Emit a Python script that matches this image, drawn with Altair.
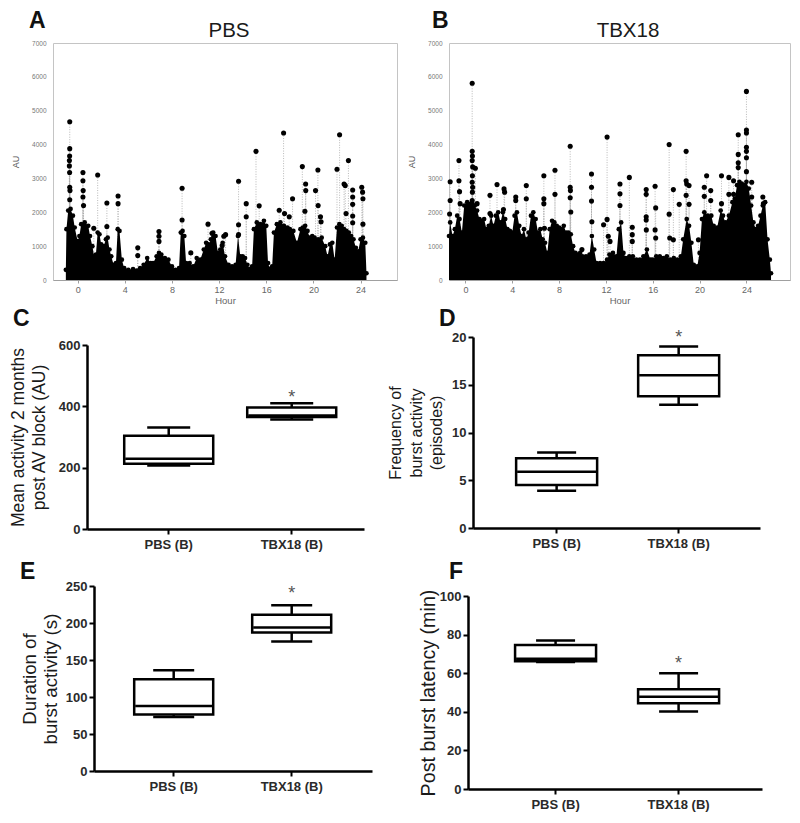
import altair as alt
import pandas as pd

FONT = "Liberation Sans"
GROUPS = ["PBS (B)", "TBX18 (B)"]
HOUR_TICKS = [0, 4, 8, 12, 16, 20, 24]
AU_TICKS = [0, 1000, 2000, 3000, 4000, 5000, 6000, 7000]

# ---------------- Panel A (PBS): upper edge of the dense activity band ----------------
A_ENV_HOUR = [-1.0, -0.95, -0.8, -0.6, -0.4, -0.25, 0.0, 0.15, 0.3, 0.6, 0.9,
              1.05, 1.25, 1.4, 1.55, 1.7, 1.85, 2.0, 2.2, 2.4, 2.55, 2.7, 2.85,
              3.05, 3.25, 3.4, 3.55, 3.75, 3.95, 4.3, 4.7, 5.0, 5.3, 5.6, 5.9,
              6.2, 6.4, 6.7, 6.9, 7.1, 7.4, 7.7, 8.0, 8.3, 8.6, 8.75, 8.9,
              9.05, 9.2, 9.5, 9.8, 10.1, 10.4, 10.7, 10.9, 11.1, 11.3, 11.5, 11.7, 11.9,
              12.1, 12.3, 12.5, 12.8, 13.1, 13.4, 13.6, 13.8, 14.0, 14.2, 14.4, 14.6, 14.8, 14.95,
              15.2, 15.5, 15.8, 16.0, 16.15, 16.3, 16.5, 16.65, 16.9, 17.2, 17.5, 17.8,
              18.0, 18.3, 18.6, 18.9, 19.1, 19.3, 19.5, 19.7, 19.9, 20.1, 20.4, 20.7,
              21.0, 21.2, 21.4, 21.6, 21.8, 22.0, 22.2, 22.4, 22.6, 22.8,
              23.0, 23.2, 23.4, 23.6, 23.8, 24.0, 24.2, 24.4, 24.5]
A_ENV_AU = [300, 1500, 2050, 2100, 1900, 1550, 1150, 1300, 1650, 1700, 1600,
            1300, 1000, 700, 750, 1400, 1350, 1050, 1000, 1200, 1250, 900, 700,
            450, 500, 1500, 1450, 600, 350, 300, 320, 280, 350, 450, 650,
            500, 500, 700, 800, 750, 650, 600, 400, 300, 350, 1400, 1450,
            1300, 500, 500, 400, 650, 600, 900, 1100, 1000, 1200, 1400, 1300, 800,
            900, 1100, 700, 450, 400, 450, 1300, 700, 700, 650, 450, 320, 400, 1500,
            1700, 1650, 1750, 1600, 500, 330, 400, 1400, 1650, 1700, 1600, 1550,
            1500, 1450, 1100, 1500, 1550, 1600, 1450, 1250, 1300, 1250, 1200, 1250,
            1000, 700, 1050, 1100, 600, 1550, 1650, 1600, 1500, 1450,
            1400, 1300, 1200, 950, 850, 1200, 1250, 1100, 200]

# Panel A: isolated burst points standing above the band
A_PEAK_HOUR = [-0.67, -0.67, -0.68, -0.70, -0.70, -0.68, -0.67, -0.65, -0.67,
               0.45, 0.45, 0.47, 0.45, 0.50, 1.37, 1.70, 2.48, 2.48, 3.43, 3.43,
               5.10, 5.10, 6.90, 6.90, 6.90, 8.86, 8.86, 9.60,
               11.06, 11.10, 11.40, 11.55, 12.26, 12.40, 12.55,
               13.65, 13.65, 13.65, 14.30, 14.30, 15.13, 15.40,
               17.10, 17.47, 17.55, 18.23, 17.95,
               19.06, 19.34, 19.35, 19.28, 20.18, 20.38, 20.40, 20.60, 20.65,
               22.00, 22.22, 22.60, 22.70, 22.97, 22.77,
               23.33, 23.33, 23.33, 23.33, 23.33, 24.10, 24.17, 24.20, 24.20]
A_PEAK_AU = [4675, 3880, 3660, 3530, 3370, 3175, 2740, 2640, 2370,
             3175, 2930, 2640, 2450, 2200, 1530, 3100, 2275, 1580, 2480, 2255,
             950, 725, 1430, 1290, 1140, 2710, 1770, 800,
             1650, 1050, 1380, 1290, 1020, 1290, 1340,
             2915, 1630, 1340, 2255, 1870, 3800, 2190,
             2060, 4340, 1965, 2400, 1870,
             3350, 2835, 2640, 2030, 2640, 3250, 2200, 1870, 1720,
             3270, 4290, 2835, 2790, 3530, 1965,
             2660, 2450, 2235, 1890, 1690, 2740, 2595, 2400, 1650]

# ---------------- Panel B (TBX18) ----------------
B_ENV_HOUR = [-1.4, -1.3, -1.1, -0.9, -0.7, -0.5, -0.3, -0.1, 0.15, 0.4, 0.6, 0.8,
              1.0, 1.2, 1.4, 1.6, 1.8, 2.0, 2.2, 2.4, 2.6, 2.8, 3.0, 3.2, 3.4, 3.6, 3.8,
              4.0, 4.2, 4.4, 4.6, 4.8, 5.0, 5.2, 5.4, 5.6, 5.8, 6.0, 6.2, 6.4, 6.6, 6.8,
              7.0, 7.2, 7.4, 7.6, 7.8, 8.0, 8.2, 8.4, 8.6, 8.8, 9.0, 9.2, 9.4, 9.6, 9.8,
              10.0, 10.3, 10.6, 10.8, 11.0, 11.2, 11.5, 11.8, 12.1, 12.3, 12.6, 12.9,
              13.1, 13.3, 13.5, 13.7, 14.0, 14.3, 14.6, 14.9, 15.2, 15.5, 15.8,
              16.0, 16.3, 16.6, 16.9, 17.2, 17.5, 17.8, 18.1, 18.4, 18.6, 18.9,
              19.1, 19.3, 19.5, 19.8, 20.0, 20.2, 20.4, 20.7, 21.0, 21.2, 21.5, 21.8,
              22.0, 22.2, 22.5, 22.8, 23.0, 23.2, 23.4, 23.6, 23.8,
              24.0, 24.2, 24.4, 24.6, 24.8, 25.0, 25.2, 25.4, 25.6, 25.8, 26.0, 26.1]
B_ENV_AU = [1300, 1700, 1300, 1500, 1900, 1800, 1400, 2200, 2300, 2250, 2250, 2200,
            2050, 1800, 1750, 1800, 1500, 1600, 1900, 1600, 1900, 2000, 1700, 2000, 1800, 1500, 1450,
            1400, 1900, 2000, 1600, 1300, 1500, 1200, 1400, 1900, 2000, 1800, 1400, 1500, 1200, 1100,
            800, 1500, 1750, 1700, 1600, 1550, 1500, 1600, 1400, 1400, 1350, 1000, 800, 750, 800,
            700, 700, 750, 1300, 900, 500, 500, 500, 600, 750, 800, 700,
            1500, 1700, 800, 650, 700, 700, 600, 600, 700, 900, 600,
            600, 700, 700, 650, 700, 600, 650, 600, 700, 1200, 1800,
            1600, 1100, 450, 400, 800, 1800, 2000, 1900, 1900, 1600, 1550, 2050,
            1900, 1700, 1900, 2300, 2400, 2800, 2900, 2850, 2800,
            2900, 2700, 2200, 1700, 1500, 1600, 1900, 2200, 2300, 1200, 600, 200]

B_PEAK_HOUR = [-1.30, -1.30, -1.35, -0.55, -0.55, -0.50, -0.45,
               0.58, 0.58, 0.60, 0.58, 0.62, 0.60, 0.58, 0.62, 0.60, 0.58, 0.85, 1.00,
               2.10, 2.10, 2.70, 3.25, 3.30, 3.35, 4.30, 4.30, 5.20, 5.20,
               6.70, 6.70, 6.70, 6.75, 7.65, 7.65,
               8.95, 8.95, 8.97, 8.95, 9.00, 9.95,
               10.77, 10.77, 10.77, 10.80, 11.80,
               12.10, 12.10, 12.20, 12.35, 13.20, 13.20, 13.20, 14.00,
               14.25, 14.25, 14.25, 15.44, 15.44, 15.44, 15.44, 15.45,
               16.20, 16.25, 16.20, 16.25, 17.40, 17.40, 17.45, 17.76, 17.76, 18.26,
               18.85, 18.85, 18.90, 18.85, 19.10, 19.10, 19.90,
               20.40, 20.40, 20.60, 20.95, 20.95, 21.87, 21.87,
               22.50, 22.50, 22.90, 22.90, 23.30, 23.30, 23.30, 23.30,
               24.00, 24.00, 24.00, 24.00, 24.00, 24.00, 24.00,
               24.45, 24.45, 25.40, 25.45]
B_PEAK_AU = [2900, 2350, 1950, 3530, 2930, 2610, 2255,
             5810, 3800, 3660, 3530, 3340, 3080, 2885, 2740, 2595, 2350, 3300, 2255,
             2500, 1965, 2820, 2080, 2690, 2595, 2450, 2350, 2790, 2400,
             3080, 2400, 2255, 1530, 3240, 2530,
             3950, 2740, 2640, 2430, 2010, 900,
             3130, 2740, 2330, 1720, 1630,
             4220, 1790, 1290, 1140, 2835, 2545, 2200, 3030,
             1560, 1340, 1140, 2670, 2530, 1870, 1770, 1480,
             2770, 2130, 1480, 1240, 4000, 1945, 1240, 2670, 1190, 2235,
             3800, 2930, 2835, 2500, 2790, 2235, 1190,
             2740, 2470, 3080, 2640, 2350, 3080, 2255,
             3030, 2530, 2930, 2530, 4290, 3710, 3465, 3320,
             5570, 4430, 4340, 3920, 3800, 3610, 3200,
             2885, 2450, 2450, 2255]

# ---------------- Box plots: [PBS (B), TBX18 (B)] ----------------
C_LOW, C_Q1, C_MED, C_Q3, C_HIGH = [207, 357], [213, 365], [229, 370], [304, 396], [331, 410]
C_STAR, C_TICKS = 445, [0, 200, 400, 600]
D_LOW, D_Q1, D_MED, D_Q3, D_HIGH = [3.9, 12.9], [4.5, 13.8], [5.9, 16.0], [7.3, 18.1], [7.9, 19.0]
D_STAR, D_TICKS = 20.4, [0, 5, 10, 15, 20]
E_LOW, E_Q1, E_MED, E_Q3, E_HIGH = [73, 175], [76.5, 187], [88, 194], [124, 211], [136, 224]
E_STAR, E_TICKS = 246, [0, 50, 100, 150, 200, 250]
F_LOW, F_Q1, F_MED, F_Q3, F_HIGH = [65.8, 40.2], [66.2, 44.4], [67.5, 47.8], [74.6, 51.7], [77, 60]
F_STAR, F_TICKS = 67.3, [0, 20, 40, 60, 80, 100]

ONE = pd.DataFrame({"k": [0]})


def anchor(left, right, top, bottom):
    # invisible rectangle fixing each panel's bounding box
    return alt.Chart(ONE).mark_rect(fill="transparent", opacity=0).encode(
        x=alt.value(left), x2=alt.value(right), y=alt.value(top), y2=alt.value(bottom))


def text_at(txt, x, y, size, weight="bold", align="left", color="#111111"):
    return alt.Chart(ONE).mark_text(
        text=txt, fontSize=size, fontWeight=weight, align=align,
        baseline="alphabetic", color=color).encode(x=alt.value(x), y=alt.value(y))


def activity_panel(env_h, env_au, pk_h, pk_au, x_domain, width, letter, letter_x, name, name_x, box):
    env = pd.DataFrame({"hour": env_h, "au": env_au})
    pk = pd.DataFrame({"hour": pk_h, "au": pk_au, "base": [0] * len(pk_h)})
    x = alt.X("hour:Q", scale=alt.Scale(domain=x_domain, nice=False, zero=False),
              axis=alt.Axis(values=HOUR_TICKS, title="Hour", grid=False, labelFontSize=9,
                            labelColor="#666666", domainColor="#a0a0a0", tickColor="#a0a0a0",
                            tickSize=3, labelPadding=2, titlePadding=1.5, titleFontSize=9.5,
                            titleFontWeight="normal", titleColor="#666666"))
    y = alt.Y("au:Q", scale=alt.Scale(domain=[0, 7000], nice=False),
              axis=alt.Axis(values=AU_TICKS, title="AU", grid=False, domain=False, ticks=False,
                            format="d",
                            labelFontSize=6.5, labelColor="#777777", labelPadding=7,
                            titleFontSize=9, titleFontWeight="normal", titleColor="#555555",
                            titlePadding=11.5))
    layers = [
        anchor(*box),
        alt.Chart(pk).mark_rule(color="#a6a6a6", strokeWidth=0.8, strokeDash=[1, 1.5]).encode(
            x=x, y=y, y2="base:Q"),
        alt.Chart(env).mark_area(color="#000000", interpolate="linear").encode(x=x, y=y),
        alt.Chart(env).mark_circle(size=22, color="#000000", opacity=1).encode(x=x, y=y),
        alt.Chart(pk).mark_circle(size=26, color="#000000", opacity=1).encode(x=x, y=y),
        text_at(letter, letter_x, -15, 23),
        text_at(name, name_x, -6.5, 20.5, weight="normal", align="center", color="#1a1a1a"),
    ]
    return alt.layer(*layers).properties(
        width=width, height=237, view=alt.ViewBackground(stroke="#c4c4c4", strokeWidth=1))


def box_panel(stats, star, ticks, width, height, pad_outer, align, box_w, cap_w,
              title, title_size, line_h, title_pad, letter, letter_x, letter_y, box):
    low, q1, med, q3, high = stats
    df = pd.DataFrame({"group": GROUPS, "low": low, "q1": q1, "med": med, "q3": q3, "high": high})
    st = pd.DataFrame({"group": [GROUPS[1]], "star": [star]})
    x = alt.X("group:N", sort=GROUPS,
              scale=alt.Scale(type="band", paddingInner=0.5, paddingOuter=pad_outer, align=align),
              axis=alt.Axis(title=None, labelAngle=0, labelFontSize=13, labelFontWeight="bold",
                            labelColor="#2a2a2a", domainColor="#000000", domainWidth=2.5,
                            tickColor="#000000", tickWidth=2, tickSize=5, labelPadding=4, grid=False))
    ysc = alt.Scale(domain=[0, ticks[-1]], nice=False, zero=True)
    yax = alt.Axis(values=ticks, title=title, grid=False, labelFontSize=13, labelFontWeight="bold",
                   labelColor="#2a2a2a", domainColor="#000000", domainWidth=2.5,
                   tickColor="#000000", tickWidth=2, tickSize=5, labelPadding=2,
                   titleFontSize=title_size, titleFontWeight="normal", titleColor="#1a1a1a",
                   titleLineHeight=line_h, titlePadding=title_pad)

    def Y(field):
        return alt.Y(f"{field}:Q", scale=ysc, axis=yax)

    base = alt.Chart(df)
    layers = [
        anchor(*box),
        base.mark_rule(color="#000000", strokeWidth=2.5).encode(x=x, y=Y("q3"), y2="high:Q"),
        base.mark_rule(color="#000000", strokeWidth=2.5).encode(x=x, y=Y("low"), y2="q1:Q"),
        base.mark_bar(size=box_w, fill="#ffffff", stroke="#000000", strokeWidth=2.5).encode(
            x=x, y=Y("q1"), y2="q3:Q"),
        base.mark_tick(size=box_w - 2, thickness=2.5, color="#000000", opacity=1).encode(x=x, y=Y("med")),
        base.mark_tick(size=cap_w, thickness=2.5, color="#000000", opacity=1).encode(x=x, y=Y("high")),
        base.mark_tick(size=cap_w, thickness=2.5, color="#000000", opacity=1).encode(x=x, y=Y("low")),
        alt.Chart(st).mark_text(text="*", fontSize=18, color="#555555", baseline="alphabetic",
                                dy=10).encode(x=x, y=Y("star")),
        text_at(letter, letter_x, letter_y, 23),
    ]
    return alt.layer(*layers).properties(width=width, height=height)


# 1x1 invisible spacer: grid cells after it are placed by their own bounding boxes
spacer = alt.Chart(ONE).mark_rect(fill="transparent", opacity=0).encode(
    x=alt.value(0), x2=alt.value(1), y=alt.value(0), y2=alt.value(1)).properties(width=1, height=1)


def cell(panel):
    # spacer above the panel: its top margin then comes from its own bounding box
    return alt.vconcat(spacer, panel, spacing=0)


def row(left_panel, right_panel):
    return alt.concat(spacer, cell(left_panel), cell(right_panel),
                      columns=3, spacing=0, align="none", bounds="full")


pA = activity_panel(A_ENV_HOUR, A_ENV_AU, A_PEAK_HOUR, A_PEAK_AU, [-2.09, 27.09], 344,
                    "A", -24, "PBS", 176, (-43, 348, -33, 262))
pB = activity_panel(B_ENV_HOUR, B_ENV_AU, B_PEAK_HOUR, B_PEAK_AU, [-1.40, 27.72], 341,
                    "B", -17, "TBX18", 179, (-46, 342, -33, 262))

pC = box_panel((C_LOW, C_Q1, C_MED, C_Q3, C_HIGH), C_STAR, C_TICKS, 277, 184, 0.376, 0.551, 89, 43,
               ["Mean activity 2 months", "post AV block (AU)"], 17.5, 21.6, 9.5,
               "C", -74, -19.5, (-78, 298, -38, 211))
pD = box_panel((D_LOW, D_Q1, D_MED, D_Q3, D_HIGH), D_STAR, D_TICKS, 287, 191, 0.426, 0.511, 81, 39,
               ["Frequency of", "burst activity", "(episodes)"], 16, 20.7, 6.7,
               "D", -34, -11.5, (-88, 289, -30, 219))
pE = box_panel((E_LOW, E_Q1, E_MED, E_Q3, E_HIGH), E_STAR, E_TICKS, 278, 185, 0.428, 0.497, 79, 41,
               ["Duration of", "burst activity (s)"], 18.7, 20.7, 5,
               "E", -74, -7, (-85, 301, -29, 227))
pF = box_panel((F_LOW, F_Q1, F_MED, F_Q3, F_HIGH), F_STAR, F_TICKS, 294, 193, 0.445, 0.519, 81, 39,
               "Post burst latency (min)", 19.7, 22, 1.2,
               "F", -19, -17, (-73, 295, -39, 217))

chart = alt.vconcat(
    row(pA, pB),
    row(pC, pD),
    row(pE, pF),
    spacing=0,
).properties(padding=0).configure(font=FONT).configure_view(stroke="transparent", strokeWidth=0)

chart.save("out.html", embed_options={"renderer": "svg", "actions": False})
